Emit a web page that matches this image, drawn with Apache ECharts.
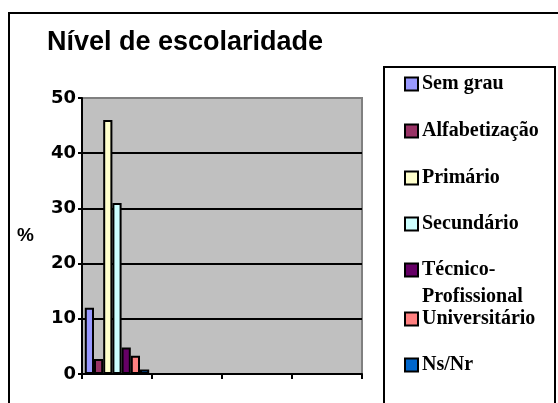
<!DOCTYPE html>
<html>
<head>
<meta charset="utf-8">
<script src="https://cdn.jsdelivr.net/npm/echarts@6/dist/echarts.min.js"></script>
<style>
html, body { margin: 0; padding: 0; background: #fff; }
#chart { width: 558px; height: 403px; }
</style>
</head>
<body>
<div id="chart"></div>
<script>
// dados
var categories = ['1', '2', '3', '4'];
var seriesNames = ['Sem grau', 'Alfabetização', 'Primário', 'Secundário', 'Técnico-Profissional', 'Universitário', 'Ns/Nr'];
var seriesValues = [12, 2.7, 46, 31, 4.8, 3.3, 0.8];
var colors = ['#9999FF', '#993366', '#FFFFCC', '#CCFFFF', '#660066', '#FF8080', '#0066CC'];
// posição vertical de cada item da legenda
var legendTops = [74, 121, 168, 214, 260, 309, 355];

var myChart = echarts.init(document.getElementById('chart'));

var series = [];
var legends = [];
for (var i = 0; i < seriesNames.length; i++) {
    series.push({
        name: seriesNames[i],
        type: 'bar',
        barGap: '0%',
        barCategoryGap: '8%',
        itemStyle: { color: colors[i], borderColor: '#000', borderWidth: 2 },
        data: [seriesValues[i]]
    });
    legends.push({
        data: [seriesNames[i]],
        left: 404,
        top: legendTops[i],
        padding: 0,
        icon: 'rect',
        itemWidth: 13,
        itemHeight: 13,
        itemGap: 0,
        selectedMode: false,
        itemStyle: { borderColor: '#000', borderWidth: 2 },
        formatter: function (name) {
            return name == 'Técnico-Profissional' ? 'Técnico-' : name;
        },
        textStyle: {
            fontFamily: 'Liberation Serif',
            fontWeight: 'bold',
            fontSize: 20,
            color: '#000',
            padding: [0, 0, 0, -1]
        }
    });
}

myChart.setOption({
    animation: false,
    color: colors,
    title: {
        text: 'Nível de escolaridade',
        left: 47,
        top: 29,
        padding: 0,
        textStyle: {
            fontFamily: 'Liberation Sans',
            fontWeight: 'bold',
            fontSize: 27,
            color: '#000'
        }
    },
    legend: legends,
    grid: {
        left: 82,
        right: 196,
        top: 98,
        bottom: 29,
        show: true,
        backgroundColor: '#C0C0C0',
        borderColor: '#808080',
        borderWidth: 2
    },
    xAxis: {
        type: 'category',
        data: categories,
        axisLine: { lineStyle: { color: '#000', width: 2 } },
        axisTick: { show: true, interval: 0, length: 5, lineStyle: { color: '#000', width: 2 } },
        axisLabel: { show: false }
    },
    yAxis: {
        type: 'value',
        min: 0,
        max: 50,
        interval: 10,
        name: '%',
        nameLocation: 'middle',
        nameRotate: 0,
        nameGap: 48,
        nameTextStyle: {
            fontFamily: 'Liberation Sans',
            fontWeight: 'bold',
            fontSize: 19,
            color: '#000',
            padding: [6, 0, 0, 0]
        },
        axisLine: { show: true, lineStyle: { color: '#000', width: 2 } },
        axisTick: { show: true, length: 4, lineStyle: { color: '#000', width: 2 } },
        axisLabel: {
            margin: 6,
            fontFamily: 'DejaVu Sans',
            fontWeight: 'bold',
            fontSize: 18,
            color: '#000'
        },
        splitLine: {
            show: true,
            showMaxLine: false,
            lineStyle: { color: '#000', width: 2 }
        }
    },
    graphic: [
        // moldura externa
        {
            type: 'rect',
            shape: { x: 9, y: 13, width: 560, height: 400 },
            style: { fill: 'none', stroke: '#000', lineWidth: 2 },
            silent: true
        },
        // caixa da legenda
        {
            type: 'rect',
            shape: { x: 384, y: 67, width: 171, height: 350 },
            style: { fill: 'none', stroke: '#000', lineWidth: 2 },
            silent: true
        },
        {
            type: 'text',
            left: 422,
            top: 287,
            style: {
                text: 'Profissional',
                font: 'bold 20px "Liberation Serif"',
                fill: '#000'
            }
        }
    ],
    series: series
});
</script>
</body>
</html>
